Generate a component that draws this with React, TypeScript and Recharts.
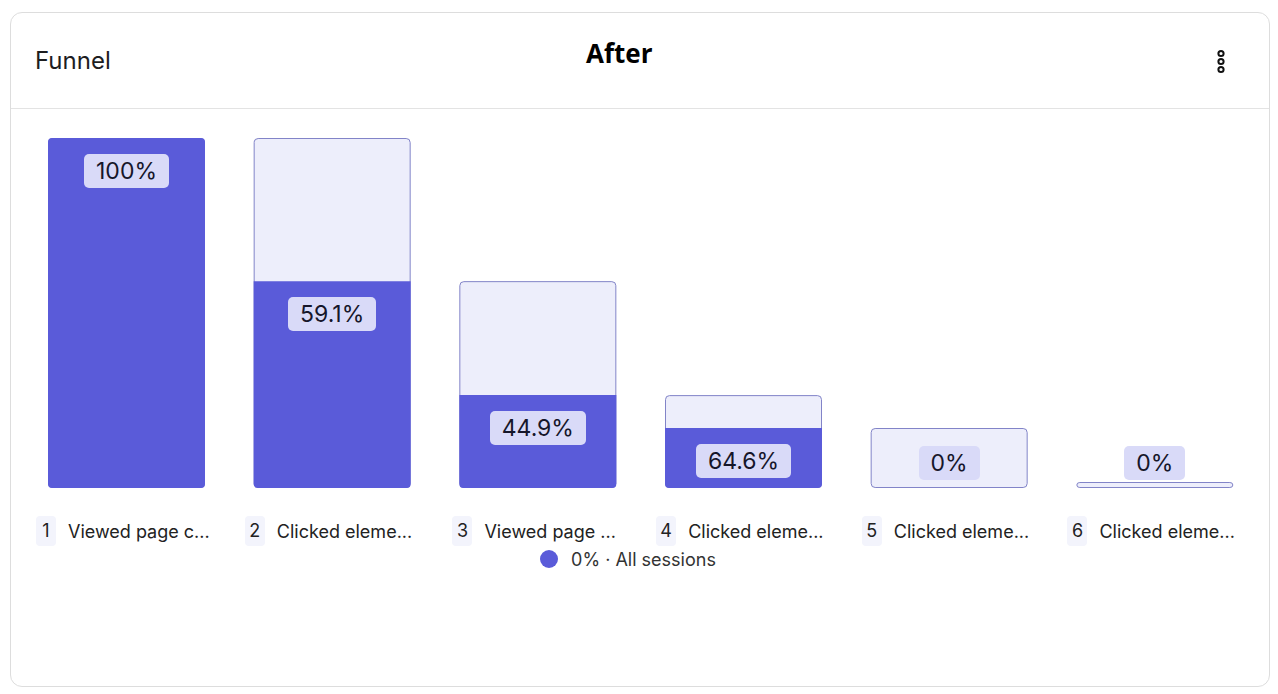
import React from "react";
import { BarChart, Bar, XAxis, YAxis, Legend, LabelList } from "recharts";

// funnel steps (names are truncated in the original view)
const stepNames = [
  "Viewed page c...",
  "Clicked eleme...",
  "Viewed page ...",
  "Clicked eleme...",
  "Clicked eleme...",
  "Clicked eleme...",
];
// step-to-step conversion, %
const conversionRates = [100, 59.1, 44.9, 64.6, 0, 0];
const seriesName = "All sessions";
const overallConversion = "0%";

const PURPLE = "#5a5bd9";
const LIGHT = "#edeefb";
const OUTLINE = "#8284c8";
const BADGE = "#d9daf8";
const FONT = "Inter, 'Noto Sans', sans-serif";

// share of sessions reaching each step, relative to step 1
const reached: number[] = [];
conversionRates.forEach((c, i) => {
  reached.push(i === 0 ? c : (reached[i - 1] * c) / 100);
});

const data = stepNames.map((name, i) => ({
  name,
  step: i + 1,
  reached: reached[i],
  prev: i === 0 ? reached[0] : reached[i - 1],
  label: conversionRates[i] + "%",
}));

const BgShape = (props: any) => {
  const { x, y, width, height } = props;
  const r = Math.min(4, height / 2);
  return (
    <rect
      x={x + 0.5}
      y={y + 0.5}
      width={width - 1}
      height={Math.max(height - 1, 1)}
      rx={r}
      ry={r}
      fill={LIGHT}
      stroke={OUTLINE}
      strokeWidth={1}
    />
  );
};

const FgShape = (props: any) => {
  const { x, y, width, height, payload } = props;
  if (!height || height <= 0) return null;
  const r = 4;
  const top = payload.reached >= payload.prev ? r : 0;
  const b = y + height;
  const d = [
    `M${x},${y + top}`,
    top ? `Q${x},${y} ${x + top},${y}` : "",
    `L${x + width - top},${y}`,
    top ? `Q${x + width},${y} ${x + width},${y + top}` : "",
    `L${x + width},${b - r}`,
    `Q${x + width},${b} ${x + width - r},${b}`,
    `L${x + r},${b}`,
    `Q${x},${b} ${x},${b - r}`,
    "Z",
  ].join(" ");
  return <path d={d} fill={PURPLE} />;
};

const RateLabel = (props: any) => {
  const { x, y, width, height, value } = props;
  const cy = Math.min(y + 33, y + height - 25);
  const cx = x + width / 2;
  return (
    <foreignObject x={cx - 80} y={cy - 17} width={160} height={34}>
      <div style={{ display: "flex", justifyContent: "center" }}>
        <span
          style={{
            background: BADGE,
            borderRadius: 5,
            padding: "0 12px",
            height: 34,
            lineHeight: "34px",
            fontFamily: FONT,
            fontSize: 23,
            color: "#16162a",
          }}
        >
          {value}
        </span>
      </div>
    </foreignObject>
  );
};

const StepTick = (props: any) => {
  const { x, y, index, payload } = props;
  const row = data[index] || data.find((d) => d.name === payload.value);
  return (
    <foreignObject x={x - 107} y={y - 2} width={206} height={30}>
      <div
        style={{
          display: "flex",
          justifyContent: "center",
          alignItems: "center",
          height: 30,
          fontFamily: FONT,
          fontSize: 18,
          color: "#222",
          whiteSpace: "nowrap",
        }}
      >
        <span
          style={{
            background: "#f3f4fc",
            borderRadius: 4,
            minWidth: 20,
            height: 30,
            lineHeight: "30px",
            textAlign: "center",
            marginRight: 12,
          }}
        >
          {row ? row.step : index + 1}
        </span>
        <span>{payload.value}</span>
      </div>
    </foreignObject>
  );
};

const LegendContent = () => (
  <div
    style={{
      height: 30,
      display: "flex",
      justifyContent: "center",
      alignItems: "center",
      paddingRight: 26,
      fontFamily: FONT,
      fontSize: 18,
      color: "#333",
      whiteSpace: "pre",
    }}
  >
    <span
      style={{
        width: 18,
        height: 18,
        borderRadius: 9,
        background: PURPLE,
        display: "inline-block",
        marginRight: 13,
      }}
    />
    <span>{overallConversion + " · " + seriesName}</span>
  </div>
);

export default function App() {
  return (
    <div
      style={{
        position: "relative",
        width: 1258,
        height: 673,
        margin: "4px 0 0 2px",
        border: "1px solid #dddddd",
        borderRadius: 12,
        background: "#fff",
        fontFamily: FONT,
      }}
    >
      <div
        style={{
          height: 95,
          borderBottom: "1px solid #e3e3e3",
          position: "relative",
        }}
      >
        <div
          style={{
            position: "absolute",
            left: 24,
            top: 33,
            fontSize: 24,
            lineHeight: "30px",
            color: "#1d1d1f",
          }}
        >
          Funnel
        </div>
        <div
          style={{
            position: "absolute",
            left: 575,
            top: 23,
            fontFamily: "'Open Sans', sans-serif",
            fontWeight: 700,
            fontSize: 26,
            lineHeight: "34px",
            color: "#000",
          }}
        >
          After
        </div>
        <svg
          style={{ position: "absolute", left: 1200, top: 36 }}
          width={20}
          height={30}
        >
          {[4.5, 12.5, 20.5].map((cy) => (
            <circle key={cy} cx={10} cy={cy} r={2.6} fill="none" stroke="#111" strokeWidth={2} />
          ))}
        </svg>
      </div>
      <BarChart
        width={1258}
        height={520}
        data={data}
        margin={{ top: 29, right: 11, left: 13, bottom: 55 }}
      >
        <XAxis xAxisId="bg" dataKey="name" hide />
        <XAxis
          xAxisId="fg"
          dataKey="name"
          height={56}
          axisLine={false}
          tickLine={false}
          tickSize={0}
          tickMargin={0}
          interval={0}
          tick={<StepTick />}
        />
        <YAxis hide domain={[0, 100]} />
        <Bar
          xAxisId="bg"
          dataKey="prev"
          barSize={157}
          minPointSize={6}
          shape={<BgShape />}
          isAnimationActive={false}
          legendType="none"
        />
        <Bar
          xAxisId="fg"
          dataKey="reached"
          name={seriesName}
          barSize={157}
          shape={<FgShape />}
          isAnimationActive={false}
        >
          <LabelList dataKey="label" content={<RateLabel />} />
        </Bar>
        <Legend verticalAlign="bottom" content={<LegendContent />} />
      </BarChart>
    </div>
  );
}
